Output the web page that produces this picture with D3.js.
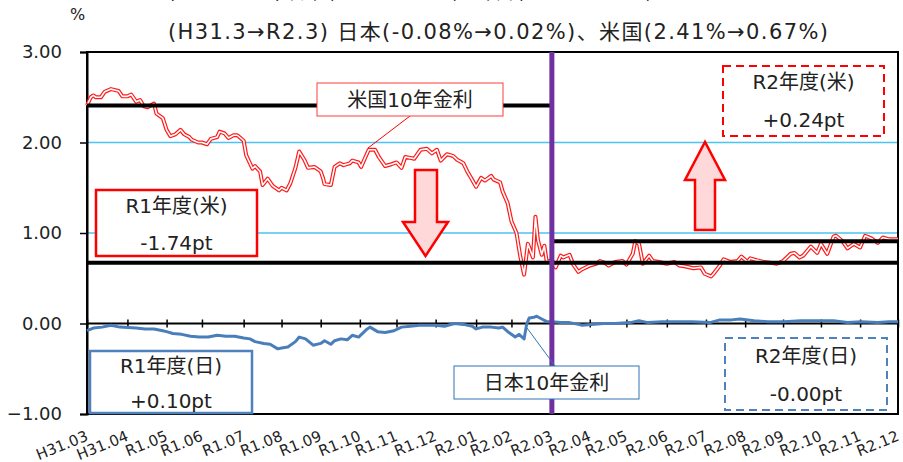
<!DOCTYPE html>
<html>
<head>
<meta charset="utf-8">
<script src="https://cdn.jsdelivr.net/npm/d3@7"></script>
<style>
  body { margin: 0; background: #fff; }
  svg { display: block; }
  svg text { font-family: "DejaVu Sans", "Noto Sans CJK JP", sans-serif; fill: #222; }
</style>
</head>
<body>
<div id="chart"></div>
<script>
// month-end category labels on the x axis
const tickLabels = ["H31.03","H31.04","R1.05","R1.06","R1.07","R1.08","R1.09","R1.10","R1.11","R1.12",
  "R2.01","R2.02","R2.03","R2.04","R2.05","R2.06","R2.07","R2.08","R2.09","R2.10","R2.11","R2.12"];
const tickDates = ["2019-03-29","2019-04-30","2019-05-31","2019-06-28","2019-07-31","2019-08-30","2019-09-30",
  "2019-10-31","2019-11-29","2019-12-30","2020-01-31","2020-02-28","2020-03-31","2020-04-30","2020-05-29",
  "2020-06-30","2020-07-31","2020-08-31","2020-09-30","2020-10-30","2020-11-30","2020-12-30"];
const yTicks = [-1, 0, 1, 2, 3];

// US 10y yield (%)
const usDates = ["2019-03-29","2019-04-01","2019-04-03","2019-04-05","2019-04-09","2019-04-12","2019-04-17","2019-04-23","2019-04-26","2019-04-30",
  "2019-05-03","2019-05-07","2019-05-10","2019-05-13","2019-05-16","2019-05-21","2019-05-23","2019-05-28","2019-05-31",
  "2019-06-03","2019-06-07","2019-06-11","2019-06-14","2019-06-18","2019-06-20","2019-06-25","2019-06-28",
  "2019-07-02","2019-07-05","2019-07-10","2019-07-12","2019-07-16","2019-07-19","2019-07-23","2019-07-26","2019-07-31",
  "2019-08-02","2019-08-07","2019-08-09","2019-08-13","2019-08-15","2019-08-19","2019-08-23","2019-08-28","2019-08-30",
  "2019-09-03","2019-09-06","2019-09-10","2019-09-13","2019-09-17","2019-09-20","2019-09-25","2019-09-30",
  "2019-10-02","2019-10-03","2019-10-08","2019-10-11","2019-10-15","2019-10-18","2019-10-23","2019-10-25","2019-10-30",
  "2019-11-01","2019-11-07","2019-11-12","2019-11-15","2019-11-20","2019-11-25","2019-11-29",
  "2019-12-03","2019-12-06","2019-12-10","2019-12-13","2019-12-18","2019-12-23","2019-12-27","2019-12-31",
  "2020-01-03","2020-01-08","2020-01-13","2020-01-16","2020-01-21","2020-01-24","2020-01-27","2020-01-31",
  "2020-02-04","2020-02-07","2020-02-12","2020-02-14","2020-02-19","2020-02-21","2020-02-25","2020-02-28",
  "2020-03-03","2020-03-06","2020-03-09","2020-03-12","2020-03-16","2020-03-18","2020-03-20","2020-03-23","2020-03-25","2020-03-27","2020-03-31",
  "2020-04-03","2020-04-07","2020-04-09","2020-04-14","2020-04-17","2020-04-21","2020-04-24","2020-04-30",
  "2020-05-05","2020-05-08","2020-05-12","2020-05-15","2020-05-20","2020-05-26","2020-05-29",
  "2020-06-03","2020-06-05","2020-06-08","2020-06-11","2020-06-16","2020-06-19","2020-06-24","2020-06-30",
  "2020-07-06","2020-07-10","2020-07-15","2020-07-21","2020-07-27","2020-07-30",
  "2020-08-04","2020-08-06","2020-08-11","2020-08-14","2020-08-19","2020-08-25","2020-08-28",
  "2020-09-02","2020-09-04","2020-09-09","2020-09-15","2020-09-21","2020-09-25","2020-09-30",
  "2020-10-06","2020-10-09","2020-10-13","2020-10-16","2020-10-22","2020-10-27","2020-10-30",
  "2020-11-04","2020-11-09","2020-11-11","2020-11-16","2020-11-20","2020-11-25","2020-11-30",
  "2020-12-04","2020-12-09","2020-12-14","2020-12-18","2020-12-23","2020-12-28","2020-12-30"];
const usValues = [2.41,2.50,2.52,2.50,2.50,2.56,2.59,2.57,2.51,2.51,
  2.53,2.45,2.47,2.40,2.39,2.43,2.32,2.27,2.14,
  2.07,2.09,2.14,2.09,2.06,2.03,2.00,2.00,
  1.98,2.04,2.06,2.12,2.10,2.05,2.08,2.08,2.02,
  1.86,1.71,1.74,1.68,1.53,1.60,1.52,1.47,1.50,
  1.47,1.55,1.72,1.90,1.81,1.72,1.73,1.68,
  1.60,1.54,1.53,1.73,1.77,1.75,1.77,1.80,1.78,
  1.73,1.92,1.92,1.84,1.74,1.76,1.78,
  1.72,1.84,1.83,1.82,1.92,1.93,1.88,1.92,
  1.80,1.87,1.85,1.81,1.77,1.68,1.61,1.51,
  1.61,1.58,1.63,1.59,1.56,1.46,1.33,1.13,
  1.00,0.74,0.54,0.88,0.73,1.18,0.92,0.76,0.86,0.68,0.70,
  0.62,0.75,0.73,0.76,0.65,0.57,0.60,0.64,
  0.66,0.69,0.67,0.64,0.68,0.69,0.65,
  0.77,0.91,0.88,0.66,0.75,0.69,0.68,0.66,
  0.68,0.64,0.63,0.61,0.62,0.55,
  0.52,0.55,0.64,0.71,0.68,0.69,0.74,
  0.68,0.72,0.70,0.68,0.67,0.66,0.69,
  0.77,0.78,0.73,0.75,0.85,0.78,0.88,
  0.77,0.96,0.97,0.91,0.83,0.88,0.84,
  0.97,0.94,0.89,0.95,0.93,0.93,0.93];

// Japan 10y yield (%)
const jpDates = ["2019-03-29","2019-04-03","2019-04-10","2019-04-17","2019-04-24","2019-05-07","2019-05-14","2019-05-21","2019-05-28","2019-05-31",
  "2019-06-05","2019-06-12","2019-06-19","2019-06-26","2019-07-03","2019-07-10","2019-07-17","2019-07-24","2019-07-31",
  "2019-08-05","2019-08-09","2019-08-16","2019-08-21","2019-08-27","2019-08-30","2019-09-04","2019-09-10","2019-09-13","2019-09-18","2019-09-24","2019-09-30",
  "2019-10-03","2019-10-08","2019-10-11","2019-10-16","2019-10-21","2019-10-25","2019-10-30","2019-11-05","2019-11-08","2019-11-14","2019-11-20","2019-11-27",
  "2019-12-03","2019-12-10","2019-12-17","2019-12-24","2019-12-30","2020-01-06","2020-01-14","2020-01-21","2020-01-28","2020-01-31",
  "2020-02-05","2020-02-12","2020-02-18","2020-02-21","2020-02-26","2020-03-02","2020-03-05","2020-03-09","2020-03-11","2020-03-13","2020-03-17","2020-03-19","2020-03-23","2020-03-27","2020-03-31",
  "2020-04-07","2020-04-14","2020-04-21","2020-04-24","2020-05-01","2020-05-11","2020-05-20","2020-06-01","2020-06-08","2020-06-15","2020-06-26",
  "2020-07-06","2020-07-20","2020-08-03","2020-08-11","2020-08-20","2020-08-27","2020-09-07","2020-09-18","2020-10-01","2020-10-14","2020-10-26",
  "2020-11-09","2020-11-20","2020-12-01","2020-12-14","2020-12-23","2020-12-30"];
const jpValues = [-0.08,-0.05,-0.04,-0.02,-0.04,-0.05,-0.06,-0.06,-0.08,-0.09,
  -0.11,-0.12,-0.14,-0.15,-0.15,-0.13,-0.14,-0.14,-0.16,
  -0.17,-0.20,-0.22,-0.23,-0.28,-0.27,-0.26,-0.20,-0.15,-0.17,-0.24,-0.22,
  -0.19,-0.23,-0.19,-0.17,-0.18,-0.13,-0.15,-0.07,-0.04,-0.09,-0.10,-0.08,
  -0.04,-0.03,-0.02,-0.02,-0.02,-0.03,0.00,-0.01,-0.03,-0.06,
  -0.04,-0.04,-0.05,-0.04,-0.10,-0.15,-0.12,-0.17,-0.01,0.06,0.07,0.08,0.05,0.02,0.02,
  0.01,0.01,-0.01,-0.02,-0.01,0.00,0.00,0.01,0.03,0.01,0.02,
  0.02,0.02,0.01,0.04,0.04,0.05,0.03,0.02,0.02,0.03,0.03,
  0.03,0.01,0.02,0.01,0.02,0.02];

// reference levels (start / end of fiscal year)
const levelFrom = ["2019-03-29","2019-03-29","2020-03-31"];
const levelTo = ["2020-03-31","2020-12-30","2020-12-30"];
const levelValues = [2.41, 0.67, 0.91];
const fyBoundary = "2020-03-31";

const width = 903, height = 462;
const parse = d3.timeParse("%Y-%m-%d");

const svg = d3.select("#chart").append("svg")
  .attr("width", width).attr("height", height);

const x = d3.scaleTime()
  .domain([parse("2019-03-29"), parse("2020-12-30")])
  .range([87, 898]);
const y = d3.scaleLinear().domain([-1, 3]).range([414, 52]);

// first title line, cut off by the top edge
[["(R2.3→R3.3)", 168, 114], ["日本", 288, 36], ["(0.02%→0.02%)", 328, 131],
 ["、米国", 463, 50], ["(0.67%→0.91%)", 517, 135]].forEach(p => {
  svg.append("text").attr("x", p[1]).attr("y", -2)
    .attr("textLength", p[2]).attr("lengthAdjust", "spacingAndGlyphs")
    .style("font-size", "21px").text(p[0]);
});
svg.append("text").attr("x", 168).attr("y", 39)
  .attr("textLength", 660).attr("lengthAdjust", "spacing")
  .style("font-size", "21px")
  .text("(H31.3→R2.3) 日本(-0.08%→0.02%)、米国(2.41%→0.67%)");
svg.append("text").attr("x", 70).attr("y", 20).style("font-size", "16px").text("%");

// grid lines at 1 and 2
svg.selectAll(".grid").data([1, 2]).enter().append("line")
  .attr("x1", 87).attr("x2", 898)
  .attr("y1", d => y(d)).attr("y2", d => y(d))
  .attr("stroke", "#4cc3f2").attr("stroke-width", 1.5);

// frame
svg.append("rect").attr("x", 87).attr("y", y(3)).attr("width", 811).attr("height", y(-1) - y(3))
  .attr("fill", "none").attr("stroke", "#000").attr("stroke-width", 2);

// y axis
const yAxis = svg.append("g").attr("transform", "translate(87,0)")
  .call(d3.axisLeft(y).tickValues(yTicks).tickFormat(d3.format(".2f")).tickSize(7).tickPadding(18));
yAxis.select(".domain").attr("stroke-width", 2);
yAxis.selectAll(".tick line").attr("stroke-width", 1.5);
yAxis.selectAll("text").style("font-size", "18px").attr("fill", "#222");

// zero line with month ticks crossing it
svg.append("line").attr("x1", 87).attr("x2", 898).attr("y1", y(0)).attr("y2", y(0))
  .attr("stroke", "#000").attr("stroke-width", 2);
const xTicks = svg.append("g").attr("transform", `translate(0,${y(0) - 4})`)
  .call(d3.axisBottom(x).tickValues(tickDates.map(parse)).tickSize(8).tickFormat(""));
xTicks.select(".domain").remove();
xTicks.selectAll(".tick line").attr("stroke-width", 1.5);

// rotated month labels below the plot
svg.selectAll(".xlab").data(tickDates).enter().append("text")
  .attr("text-anchor", "end")
  .attr("transform", d => `translate(${x(parse(d)) + 2},440) rotate(-22)`)
  .style("font-size", "15px")
  .text((d, i) => tickLabels[i]);

// US line: red outline with white core
const usData = usDates.map((d, i) => ({ date: parse(d), value: usValues[i] }));
const jpData = jpDates.map((d, i) => ({ date: parse(d), value: jpValues[i] }));
const line = d3.line().x(d => x(d.date)).y(d => y(d.value));

svg.append("path").datum(usData).attr("d", line)
  .attr("fill", "none").attr("stroke", "#ff1a1a").attr("stroke-width", 4).attr("stroke-linejoin", "round");
svg.append("path").datum(usData).attr("d", line)
  .attr("fill", "none").attr("stroke", "#fff").attr("stroke-width", 1.6).attr("stroke-linejoin", "round");

// Japan line
svg.append("path").datum(jpData).attr("d", line)
  .attr("fill", "none").attr("stroke", "#4a7ebb").attr("stroke-width", 3).attr("stroke-linejoin", "round");

// level lines
svg.selectAll(".level").data(levelValues).enter().append("line")
  .attr("x1", (d, i) => x(parse(levelFrom[i]))).attr("x2", (d, i) => x(parse(levelTo[i])))
  .attr("y1", d => y(d)).attr("y2", d => y(d))
  .attr("stroke", "#000").attr("stroke-width", 4);

// fiscal-year boundary
svg.append("line")
  .attr("x1", x(parse(fyBoundary))).attr("x2", x(parse(fyBoundary)))
  .attr("y1", y(3)).attr("y2", y(-1))
  .attr("stroke", "#7030a0").attr("stroke-width", 5);

// arrows
const arrow = (pts) => svg.append("polygon").attr("points", pts.map(p => p.join(",")).join(" "))
  .attr("fill", "#ffd9d9").attr("stroke", "#ff0000").attr("stroke-width", 2.5).attr("stroke-linejoin", "miter");
arrow([[415,170],[437,170],[437,222],[448,222],[425.5,256],[403,222],[415,222]]);
arrow([[695,230],[715,230],[715,180],[725,180],[705,142],[685,180],[695,180]]);

// callout lines
svg.append("line").attr("x1", 410).attr("y1", 116).attr("x2", 368).attr("y2", 148)
  .attr("stroke", "#ff0000").attr("stroke-width", 1);
svg.append("line").attr("x1", 555).attr("y1", 366).attr("x2", 527).attr("y2", 328)
  .attr("stroke", "#2e75b6").attr("stroke-width", 1);

// boxes
function box(x0, y0, w, h, stroke, sw, dash, lines) {
  svg.append("rect").attr("x", x0).attr("y", y0).attr("width", w).attr("height", h)
    .attr("fill", "#fff").attr("stroke", stroke).attr("stroke-width", sw)
    .attr("stroke-dasharray", dash);
  lines.forEach(t => {
    svg.append("text").attr("x", x0 + w / 2).attr("y", t[1])
      .attr("text-anchor", "middle").style("font-size", "20px").text(t[0]);
  });
}
box(317, 83, 186, 33, "#ff3b3b", 1, null, [["米国10年金利", 107]]);
box(96, 190, 161, 66, "#ff0000", 2.5, null, [["R1年度(米)", 213], ["-1.74pt", 250]]);
box(723, 66, 161, 70, "#ff0000", 2, "8,5", [["R2年度(米)", 89], ["+0.24pt", 127]]);
box(90, 351, 162, 62, "#4f81bd", 2.5, null, [["R1年度(日)", 373], ["+0.10pt", 408]]);
box(725, 338, 162, 72, "#4f81bd", 2, "8,5", [["R2年度(日)", 363], ["-0.00pt", 401]]);
box(454, 366, 185, 33, "#2e75b6", 1, null, [["日本10年金利", 390]]);
</script>
</body>
</html>
